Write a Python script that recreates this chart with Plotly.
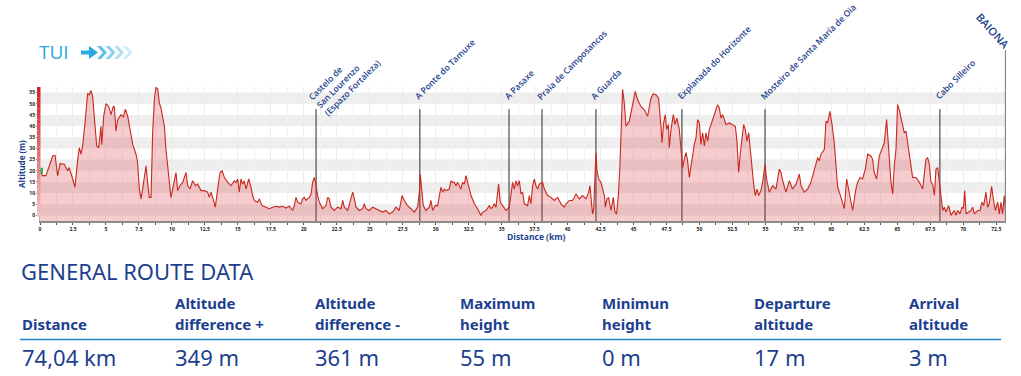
import plotly.graph_objects as go

# ---------------- data ----------------
dist_km = [0.00, 0.20, 0.45, 0.71, 0.96, 1.14, 1.34, 1.52, 1.84, 2.10, 2.22, 2.48, 2.65, 2.86, 2.98, 3.11, 3.23, 3.44, 3.61, 3.74,
           3.87, 3.99, 4.12, 4.30, 4.45, 4.62, 4.68, 4.83, 5.00, 5.21, 5.38, 5.56, 5.64, 5.76, 5.89, 6.14, 6.32, 6.47, 6.65, 6.77,
           7.03, 7.28, 7.40, 7.53, 7.66, 7.78, 7.91, 8.04, 8.16, 8.29, 8.42, 8.54, 8.67, 8.79, 8.92, 9.05, 9.17, 9.30, 9.43, 9.55,
           9.68, 9.81, 9.93, 10.06, 10.18, 10.31, 10.44, 10.61, 10.82, 11.07, 11.20, 11.37, 11.57, 11.78, 11.95, 12.21, 12.46, 12.71, 12.84, 12.96,
           13.09, 13.29, 13.47, 13.65, 13.80, 13.98, 14.23, 14.48, 14.73, 14.86, 14.99, 15.11, 15.24, 15.36, 15.49, 15.62, 15.82, 16.00, 16.12, 16.25,
           16.50, 16.63, 16.83, 17.13, 17.39, 17.64, 17.89, 18.15,
           18.40, 18.65, 18.90, 19.16, 19.28, 19.41, 19.53, 19.79, 19.91, 20.04, 20.17, 20.29, 20.42, 20.55, 20.67, 20.80, 20.92, 21.05, 21.18, 21.43,
           21.68, 21.81, 21.93, 22.06, 22.31, 22.57, 22.82, 22.95, 23.07, 23.33, 23.58, 23.71, 23.83, 23.96, 24.21, 24.46, 24.59, 24.71, 24.97, 25.22,
           25.47, 25.73, 25.98, 26.23, 26.48, 26.74, 26.99, 27.24, 27.45, 27.62, 27.87, 28.13, 28.38, 28.63, 28.76, 28.83, 28.93, 29.06, 29.26, 29.52,
           29.64, 29.77, 29.97, 30.15, 30.28, 30.40, 30.53, 30.66, 30.78, 31.03, 31.16, 31.29, 31.41, 31.54, 31.66, 31.92, 32.04, 32.17, 32.30, 32.42,
           32.55, 32.68, 32.93, 33.18, 33.43, 33.56, 33.81, 34.07, 34.19, 34.32, 34.44, 34.57, 34.77, 34.90, 35.08, 35.33, 35.58, 35.71, 35.83, 35.96,
           36.09, 36.21, 36.34, 36.47,
           36.59, 36.72, 36.97, 37.10, 37.22, 37.35, 37.48, 37.60, 37.73, 37.86, 38.11, 38.24, 38.49, 38.74, 38.99, 39.25, 39.50, 39.75, 39.88, 40.13,
           40.38, 40.64, 40.89, 41.14, 41.40, 41.60, 41.70, 41.83, 41.90, 41.98, 42.08, 42.15, 42.23, 42.36, 42.53, 42.66, 42.79, 42.86, 42.99, 43.11,
           43.29, 43.47, 43.59, 43.72, 43.85, 43.97, 44.10, 44.17, 44.30, 44.43, 44.68, 44.93, 45.13, 45.31, 45.56, 45.82, 46.07, 46.32, 46.50, 46.70,
           46.90, 47.08, 47.16, 47.28, 47.41, 47.51, 47.64, 47.71, 47.84, 48.02, 48.14, 48.29, 48.47, 48.60, 48.72, 48.85, 48.98, 49.10, 49.23, 49.36,
           49.48, 49.61, 49.74, 49.86, 49.99, 50.11, 50.24, 50.37, 50.49, 50.62, 50.75, 50.87, 51.00, 51.12, 51.25, 51.38, 51.50, 51.63, 51.76, 51.88,
           52.01, 52.26, 52.51, 52.72, 52.84, 52.97, 53.09, 53.22, 53.35, 53.47, 53.60, 53.73, 53.85, 53.98, 54.11, 54.23, 54.36, 54.49, 54.66,
           54.79, 54.97, 55.09, 55.29, 55.55, 55.80, 55.93, 56.05, 56.18, 56.31, 56.56, 56.81, 57.06, 57.32, 57.57, 57.70, 57.95, 58.20, 58.45, 58.71,
           58.96, 59.08, 59.21, 59.47, 59.59, 59.72, 59.89, 60.05, 60.22, 60.35, 60.48, 60.73, 60.98, 61.16, 61.36, 61.61, 61.86, 61.99, 62.17, 62.37,
           62.57, 62.75, 63.00, 63.13, 63.25, 63.43, 63.63, 63.89, 64.01, 64.19, 64.29, 64.39, 64.52, 64.65, 64.77, 64.90, 65.02, 65.15, 65.28, 65.40,
           65.53, 65.66, 65.86, 66.03, 66.16, 66.41, 66.67, 66.92, 67.05, 67.17, 67.30, 67.43, 67.55, 67.68, 67.81, 67.93, 68.06, 68.18, 68.31, 68.44,
           68.56, 68.69, 68.89, 69.07, 69.32, 69.45, 69.58, 69.75, 69.91, 70.01, 70.11, 70.21, 70.41, 70.59, 70.71, 70.84, 71.09, 71.27, 71.42, 71.55,
           71.72, 71.85, 71.97, 72.15, 72.28, 72.43, 72.61, 72.73, 72.86, 72.98, 73.11, 73.19]

altitude_m = [20.0, 17.8, 17.8, 22.2, 26.6, 26.9, 17.8, 23.2, 22.9, 20.0, 21.4, 16.3, 12.6, 25.1, 30.3, 27.4, 31.1, 42.9, 54.7, 54.0,
              55.9, 53.3, 44.4, 31.1, 30.3, 39.9, 31.8, 44.4, 50.0, 48.8, 45.1, 48.8, 48.5, 37.7, 42.9, 45.1, 44.1, 47.6, 44.4, 39.9,
              31.8, 27.4, 23.7, 11.8, 7.4, 11.8, 16.3, 22.2, 14.8, 8.1, 8.1, 37.0, 51.8, 57.2, 56.9, 50.3, 48.1, 44.4, 39.9, 29.6,
              20.7, 14.8, 8.1, 11.8, 14.8, 19.2, 11.1, 13.3, 14.8, 19.2, 13.3, 11.8, 15.5, 13.3, 14.0, 11.1, 11.1, 10.4, 8.1, 10.4,
              8.1, 3.7, 11.8, 19.2, 20.0, 17.0, 14.8, 13.3, 15.5, 14.8, 16.3, 10.4, 16.3, 14.0, 15.5, 11.8, 16.3, 12.6, 8.9, 6.7,
              5.9, 7.4, 4.4, 3.7, 3.0, 3.7, 4.1, 3.7,
              4.1, 3.3, 4.1, 2.2, 4.4, 8.1, 5.9, 5.2, 7.4, 8.1, 6.7, 7.4, 8.1, 9.6, 14.8, 17.0, 14.0, 8.9, 5.9, 3.0,
              4.4, 8.1, 7.4, 3.7, 2.2, 3.7, 3.0, 6.7, 3.7, 2.2, 8.1, 10.4, 7.4, 3.7, 2.2, 3.0, 5.2, 3.0, 2.2, 3.7,
              3.0, 2.2, 1.5, 2.2, 0.7, 1.5, 3.7, 2.2, 8.9, 6.7, 4.4, 3.0, 1.5, 3.7, 10.4, 18.5, 10.4, 4.4, 2.2, 3.7,
              6.7, 2.2, 4.4, 4.4, 8.9, 12.6, 10.4, 11.8, 11.1, 11.8, 15.5, 14.8, 14.8, 13.3, 14.8, 11.8, 14.8, 14.0, 17.8, 14.8,
              11.8, 8.9, 5.2, 3.0, 0.0, 1.5, 2.2, 4.4, 3.0, 3.7, 5.2, 3.7, 14.0, 5.9, 4.4, 2.2, 3.7, 8.9, 14.8, 11.8,
              15.5, 13.3, 15.5, 9.6,
              10.4, 5.2, 4.4, 8.9, 5.2, 13.3, 16.3, 13.3, 11.8, 14.0, 14.8, 11.8, 8.9, 8.1, 6.7, 8.1, 5.2, 3.7, 5.2, 6.7,
              6.7, 9.6, 7.4, 8.9, 7.4, 10.4, 13.3, 4.4, 0.7, 3.0, 20.7, 28.1, 20.0, 16.3, 14.8, 11.1, 8.9, 3.7, 7.4, 8.1,
              2.2, 8.1, 1.5, 0.7, 8.9, 22.2, 44.4, 56.5, 50.3, 39.9, 42.2, 49.6, 55.5, 51.8, 48.8, 47.3, 44.4, 52.5, 54.4, 54.0,
              52.5, 39.9, 32.5, 41.4, 45.1, 38.5, 40.7, 30.3, 38.5, 45.1, 40.7, 43.6, 38.5, 29.6, 21.4, 25.1, 28.1, 24.4, 17.0, 22.2,
              27.4, 31.8, 34.8, 42.9, 41.4, 31.8, 37.0, 31.1, 37.0, 33.3, 38.5, 40.7, 42.9, 44.4, 47.3, 49.6, 48.1, 43.6, 45.1, 42.9,
              40.7, 41.4, 40.7, 39.9, 33.3, 19.2, 27.4, 35.5, 40.7, 38.5, 33.3, 37.0, 28.8, 22.2, 14.0, 8.9, 11.8, 8.9, 11.1,
              14.8, 22.9, 16.3, 10.4, 13.3, 11.8, 16.3, 20.7, 19.2, 15.5, 10.4, 15.5, 11.8, 14.0, 18.5, 13.3, 10.4, 11.8, 14.8, 20.0,
              25.9, 24.4, 27.4, 29.6, 42.2, 41.4, 46.6, 40.7, 32.5, 22.2, 12.6, 8.1, 3.0, 16.3, 10.4, 2.2, 11.8, 14.8, 17.0, 16.3,
              20.7, 27.4, 26.6, 25.1, 19.2, 16.3, 26.6, 30.3, 32.5, 42.9, 33.3, 25.1, 14.8, 9.6, 22.2, 29.6, 49.6, 47.3, 43.6, 41.4,
              37.0, 37.7, 28.8, 23.7, 17.0, 17.0, 14.8, 11.8, 17.8, 25.1, 25.9, 22.9, 14.8, 14.0, 8.9, 20.7, 21.4, 14.8, 8.9, 2.2,
              3.7, 1.5, 4.4, 0.0, 2.2, 0.0, 2.2, 0.7, 3.7, 3.0, 11.1, 0.7, 1.5, 2.2, 3.7, 0.7, 2.2, 2.2, 5.9, 4.4,
              10.4, 3.7, 5.2, 13.0, 7.4, 2.2, 5.9, 0.7, 5.9, 0.7, 8.9, 3.0]

stop_km = [20.93, 28.80, 35.56, 38.06, 42.15, 48.67, 54.97, 68.23]
stop_names = ["Castelo de<br>San Lourenzo<br>(Espazo Fortaleza)", "A Ponte do Tamuxe", "A Pasaxe",
              "Praia de Camposancos", "A Guarda", "Explanada do Horizonte",
              "Mosteiro de Santa María de Oia", "Cabo Silleiro"]
start_name = "TUI"
end_name = "BAIONA"
end_km = 73.20

x_tick_vals = [i * 2.5 for i in range(30)]
x_tick_text = ["0", "2.5", "5", "7.5", "10", "12.5", "15", "17.5", "20", "22.5", "25", "27.5", "30", "32.5",
               "35", "37.5", "40", "42.5", "45", "47.5", "50", "52.5", "55", "57.5", "60", "62.5", "65", "67.5",
               "70", "72.5"]
y_tick_vals = [0, 5, 10, 15, 20, 25, 30, 35, 40, 45, 50, 55]

table_title = "GENERAL ROUTE DATA"
head_line1 = ["", "Altitude", "Altitude", "Maximum", "Minimun", "Departure", "Arrival"]
head_line2 = ["Distance", "difference +", "difference -", "height", "height", "altitude", "altitude"]
table_values = ["74,04 km", "349 m", "361 m", "55 m", "0 m", "17 m", "3 m"]

# ---------------- layout geometry (pixels) ----------------
W, H = 1021, 376
ML, MR, MT, MB = 40, 15, 87, 155
PW, PH = W - ML - MR, H - MT - MB
X_MAX = 73.24
Y_MIN, Y_MAX = -2.5, 57.5


def xp(px):
    return (px - ML) / PW


def yp(py):
    return (H - MB - py) / PH


BLUE = "#1d3f8f"
LBLUE = "#29a9e0"
line_top_alt = 47.6

fig = go.Figure()
fig.add_trace(go.Scatter(x=dist_km, y=[Y_MIN] * len(dist_km), mode="lines",
                         line=dict(width=0), hoverinfo="skip", showlegend=False))
fig.add_trace(go.Scatter(x=dist_km, y=altitude_m, mode="lines", fill="tonexty",
                         fillcolor="rgba(220,50,60,0.25)",
                         line=dict(color="#c9281e", width=1.1), showlegend=False))
fig.add_trace(go.Scatter(x=[dist_km[0]], y=[altitude_m[0]], mode="markers",
                         marker=dict(symbol="square", size=6, color="#3cb44b"),
                         cliponaxis=False, showlegend=False))

shapes = []
# grey bands
for b in range(0, 55, 10):
    shapes.append(dict(type="rect", xref="paper", yref="y", x0=0, x1=1, y0=b, y1=b + 5,
                       fillcolor="#eeeeee", line=dict(width=0), layer="below"))
# left red gradient bar
nseg = 24
for i in range(nseg):
    t = i / (nseg - 1)
    r = int(214 + (244 - 214) * (1 - t))
    g = int(32 + (190 - 32) * (1 - t))
    bcol = int(36 + (192 - 36) * (1 - t))
    y0 = -0.5 + (Y_MAX + 0.5) * i / nseg
    y1 = -0.5 + (Y_MAX + 0.5) * (i + 1) / nseg
    shapes.append(dict(type="rect", xref="paper", yref="y", x0=xp(37), x1=xp(40.5), y0=y0, y1=y1,
                       fillcolor=f"rgb({r},{g},{bcol})", line=dict(width=0), layer="above"))
# stop lines
for k in stop_km:
    shapes.append(dict(type="line", xref="x", yref="y", x0=k, x1=k, y0=Y_MIN, y1=line_top_alt,
                       line=dict(color="#2b2b2b", width=1), layer="between"))
# end line
shapes.append(dict(type="line", xref="x", yref="paper", x0=end_km, x1=end_km, y0=0, y1=yp(50),
                   line=dict(color="#8a8086", width=1.2), layer="above"))
# separator line of the table
shapes.append(dict(type="line", xref="paper", yref="paper", x0=xp(20), x1=xp(1001), y0=yp(339.5), y1=yp(339.5),
                   line=dict(color="#1f84cf", width=1.5)))
# TUI arrow
ay = 52.5
shapes.append(dict(type="path", xref="paper", yref="paper",
                   path=f"M {xp(81)},{yp(ay-2)} L {xp(89)},{yp(ay-2)} L {xp(89)},{yp(ay-6.5)} L {xp(98)},{yp(ay)} "
                        f"L {xp(89)},{yp(ay+6.5)} L {xp(89)},{yp(ay+2)} L {xp(81)},{yp(ay+2)} Z",
                   fillcolor=LBLUE, line=dict(width=0)))
for j, op in enumerate([0.75, 0.55, 0.38, 0.22]):
    x0 = 97 + j * 8.5
    shapes.append(dict(type="path", xref="paper", yref="paper",
                       path=f"M {xp(x0)},{yp(ay-6.5)} L {xp(x0+4)},{yp(ay-6.5)} L {xp(x0+10)},{yp(ay)} "
                            f"L {xp(x0+4)},{yp(ay+6.5)} L {xp(x0)},{yp(ay+6.5)} L {xp(x0+6)},{yp(ay)} Z",
                       fillcolor=LBLUE, opacity=op, line=dict(width=0)))

annotations = []
label_font = dict(family="Open Sans", size=8.6, color=BLUE, weight=600)
for i, (k, name) in enumerate(zip(stop_km, stop_names)):
    if "<br>" in name:
        annotations.append(dict(x=k, y=line_top_alt, xref="x", yref="y", text=name, showarrow=False,
                                textangle=-45, xanchor="left", yanchor="bottom", align="left",
                                xshift=-13, yshift=-12, font=label_font))
    else:
        annotations.append(dict(x=k, y=line_top_alt, xref="x", yref="y", text=name, showarrow=False,
                                textangle=-45, xanchor="left", yanchor="bottom",
                                xshift=-10, yshift=4, font=label_font))
annotations.append(dict(x=end_km, y=yp(31), xref="x", yref="paper", text=end_name, showarrow=False,
                        textangle=48, xanchor="center", yanchor="middle", xshift=-13,
                        font=dict(family="Open Sans", size=11, color=BLUE, weight=600)))
annotations.append(dict(x=xp(37), y=yp(52), xref="paper", yref="paper", text=start_name, showarrow=False,
                        xanchor="left", yanchor="middle",
                        font=dict(family="Open Sans", size=19, color=LBLUE, weight=400)))
# axis titles
annotations.append(dict(x=xp(21), y=yp(164), xref="paper", yref="paper", text="Altitude (m)", showarrow=False,
                        textangle=-90, xanchor="center", yanchor="middle",
                        font=dict(family="Open Sans", size=8, color=BLUE, weight=700)))
annotations.append(dict(x=xp(536), y=yp(236.5), xref="paper", yref="paper", text="Distance (km)", showarrow=False,
                        xanchor="center", yanchor="middle",
                        font=dict(family="Open Sans", size=8.5, color=BLUE, weight=700)))
# table
annotations.append(dict(x=xp(19), y=yp(271), xref="paper", yref="paper", text=table_title, showarrow=False,
                        xanchor="left", yanchor="middle",
                        font=dict(family="Noto Sans", size=22, color=BLUE, weight=400)))
col_px = [20, 173, 313, 458, 600, 752, 907]
for cx, h1, h2, v in zip(col_px, head_line1, head_line2, table_values):
    if h1:
        annotations.append(dict(x=xp(cx), y=yp(302.5), xref="paper", yref="paper", text=h1, showarrow=False,
                                xanchor="left", yanchor="middle",
                                font=dict(family="Noto Sans", size=15, color=BLUE, weight=700)))
    annotations.append(dict(x=xp(cx), y=yp(324), xref="paper", yref="paper", text=h2, showarrow=False,
                            xanchor="left", yanchor="middle",
                            font=dict(family="Noto Sans", size=15, color=BLUE, weight=700)))
    annotations.append(dict(x=xp(cx), y=yp(356.5), xref="paper", yref="paper", text=v, showarrow=False,
                            xanchor="left", yanchor="middle",
                            font=dict(family="Noto Sans", size=22, color=BLUE, weight=400)))

fig.update_layout(
    width=W, height=H, autosize=False,
    margin=dict(l=ML, r=MR, t=MT, b=MB, pad=0),
    paper_bgcolor="white", plot_bgcolor="white",
    shapes=shapes, annotations=annotations, showlegend=False,
    xaxis=dict(range=[0, X_MAX], tickvals=x_tick_vals, ticktext=x_tick_text,
               tickfont=dict(family="Open Sans", size=5, color="#222", weight=700),
               ticks="outside", ticklen=2, tickcolor="#555", tickwidth=1,
               showline=True, linecolor="#8c8c8c", linewidth=2,
               showgrid=True, gridcolor="#ececec", gridwidth=1, zeroline=False,
               minor=dict(dtick=1.25, tick0=0, ticks="outside", ticklen=2, tickcolor="#555",
                          showgrid=True, gridcolor="#f1f1f1"),
               fixedrange=True),
    yaxis=dict(range=[Y_MIN, Y_MAX], tickvals=y_tick_vals,
               tickfont=dict(family="Open Sans", size=5, color="#222", weight=700),
               ticks="outside", ticklen=3, tickcolor="#999", tickwidth=1,
               showline=True, linecolor="#b0b0b0", linewidth=1,
               showgrid=False, zeroline=False, fixedrange=True),
)

fig.write_html("out.html", config={"displayModeBar": False},
               post_script="document.body.style.margin='0px';document.body.style.overflow='hidden';")
